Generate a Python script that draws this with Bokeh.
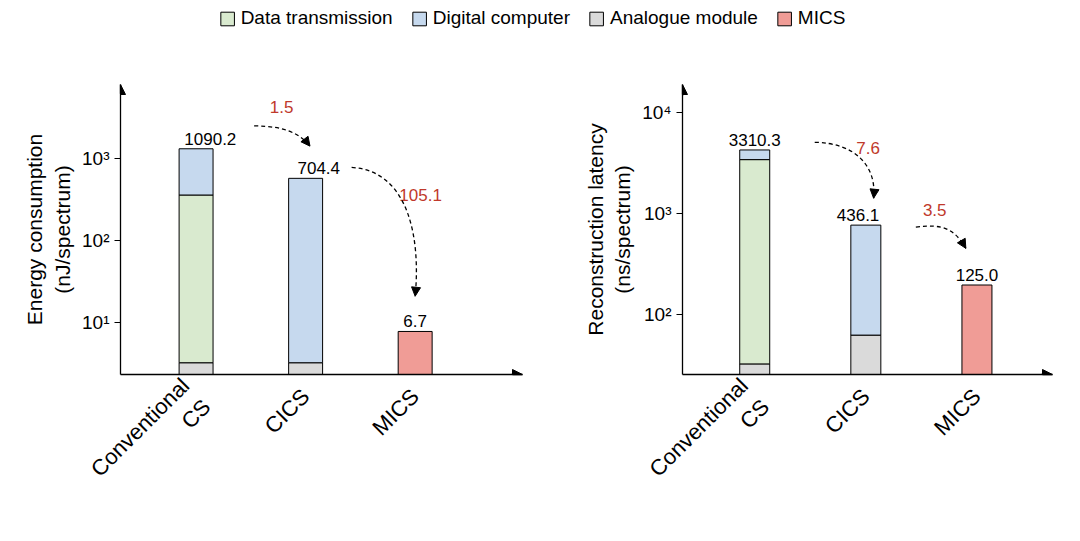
import math
from bokeh.plotting import figure
from bokeh.layouts import column, row
from bokeh.models import (Range1d, FixedTicker, Arrow, NormalHead, Legend, LegendItem)
from bokeh.embed import file_html
from bokeh.resources import INLINE

FONT = "Liberation Sans"
categories = ["Conventional\nCS", "CICS", "MICS"]
series = ["Data transmission", "Digital computer", "Analogue module", "MICS"]
colors = {"Data transmission": "#d9eacf", "Digital computer": "#c6d9ee",
          "Analogue module": "#dadada", "MICS": "#f09c96"}

# segment tops (stacked on log axis)
e_base = 2.3
e_analogue = [3.2, 3.2, None]
e_data = [355, None, None]
e_digital = [1300, 567, None]
e_mics = [None, None, 7.7]
e_labels = ["1090.2", "704.4", "6.7"]
e_ratio = ["1.5", "105.1"]

l_base = 25.7
l_analogue = [32.7, 63, None]
l_data = [3420, None, None]
l_digital = [4260, 770, None]
l_mics = [None, None, 197]
l_labels = ["3310.3", "436.1", "125.0"]
l_ratio = ["7.6", "3.5"]


def panel(width, bl, br, bt, bb, xr, yr, ticks, base, analogue, data, digital, mics, ylabel, bw,
          labels, lab_x, ratios, ratio_pos, curves):
    p = figure(width=width, height=489, output_backend="svg", toolbar_location=None,
               y_axis_type="log", x_range=Range1d(*xr), y_range=Range1d(*yr),
               min_border_left=bl, min_border_right=br, min_border_top=bt, min_border_bottom=bb)
    p.outline_line_color = None
    p.grid.visible = False
    for i in range(3):
        b = base
        for val, key in [(analogue[i], "Analogue module"), (data[i], "Data transmission"),
                         (digital[i], "Digital computer"), (mics[i], "MICS")]:
            if val is None:
                continue
            p.vbar(x=[i], bottom=[b], top=[val], width=bw, fill_color=colors[key],
                   line_color="black", line_width=1)
            b = val
        top = b
        p.text(x=[lab_x[i]], y=[top], text=[labels[i]], text_align="center", text_baseline="bottom",
               y_offset=-4, text_font_size="17px", text_font={"value": FONT}, text_color="black")
    for t, (x, y) in zip(ratios, ratio_pos):
        p.text(x=[x], y=[y], text=[t], text_align="center", text_baseline="middle",
               text_font_size="17px", text_font={"value": FONT}, text_color="#c0392b")
    for (x0, y0, cx0, cy0, cx1, cy1, x1, y1) in curves:
        p.bezier(x0=[x0], y0=[y0], cx0=[cx0], cy0=[cy0], cx1=[cx1], cy1=[cy1], x1=[x1], y1=[y1],
                 line_color="black", line_width=1.3, line_dash="4 3")
        dx = x1 - cx1
        ly = math.log10(y1) - math.log10(cy1)
        p.add_layout(Arrow(end=NormalHead(size=9, fill_color="black", line_color="black"),
                           x_start=x1 - dx * 0.05, y_start=10 ** (math.log10(y1) - ly * 0.05),
                           x_end=x1, y_end=y1, line_color="black", line_width=1.3))
    p.yaxis.ticker = FixedTicker(ticks=ticks)
    sup = {1: "¹", 2: "²", 3: "³", 4: "⁴"}
    p.yaxis.major_label_overrides = {t: "10" + sup[int(round(math.log10(t)))] for t in ticks}
    p.yaxis.minor_tick_line_color = None
    p.yaxis.major_tick_out = 6
    p.yaxis.major_tick_in = 0
    p.yaxis.axis_label = ylabel
    p.yaxis.axis_label_text_font_style = "normal"
    p.yaxis.axis_label_text_font_size = "21px"
    p.yaxis.axis_label_text_font = FONT
    p.yaxis.axis_label_text_color = "black"
    p.yaxis.major_label_text_font_size = "19px"
    p.yaxis.major_label_text_font = FONT
    p.axis.major_label_text_color = "black"
    p.xaxis.ticker = FixedTicker(ticks=[0, 1, 2])
    p.xaxis.major_label_overrides = {i: c for i, c in enumerate(categories)}
    p.xaxis.major_label_orientation = math.pi / 4
    p.xaxis.major_label_text_font_size = "22px"
    p.xaxis.major_label_text_font = FONT
    p.xaxis.major_label_standoff = 12
    p.xaxis.major_tick_line_color = None
    p.xaxis.minor_tick_line_color = None
    p.axis.axis_line_width = 1.3
    p.axis.axis_line_color = "black"
    p.yaxis.major_tick_line_color = "black"
    p.add_layout(Arrow(end=NormalHead(size=10, fill_color="black"), x_start=xr[0], x_end=xr[0],
                       y_start=yr[1] / 1.3, y_end=yr[1], line_width=1.3))
    p.add_layout(Arrow(end=NormalHead(size=10, fill_color="black"), x_start=xr[1] - 0.1, x_end=xr[1],
                       y_start=yr[0], y_end=yr[0], line_width=1.3))
    return p


left = panel(552, 120, 30, 36, 138, (-0.69, 2.98), (2.3, 7900), [10, 100, 1000], e_base,
             e_analogue, e_data, e_digital, e_mics, "Energy consumption\n(nJ/spectrum)", 0.31,
             e_labels, [0.13, 1.12, 2.0], e_ratio, [(0.78, 4150), (2.05, 355)],
             [(0.53, 2470, 0.8, 2470, 0.95, 2000, 1.04, 1400),
              (1.42, 770, 1.95, 700, 2.05, 100, 2.0, 20.7)])
right = panel(504, 130, 4, 48, 138, (-0.65, 2.68), (25.7, 18900), [100, 1000, 10000], l_base,
              l_analogue, l_data, l_digital, l_mics, "Reconstruction latency\n(ns/spectrum)", 0.27,
              l_labels, [0.0, 0.93, 2.0], l_ratio, [(1.02, 4440), (1.62, 1090)],
              [(0.54, 5070, 0.9, 5000, 1.1, 3000, 1.07, 1420),
               (1.45, 736, 1.7, 800, 1.8, 700, 1.9, 454)])

leg = figure(width=1064, height=36, output_backend="svg", toolbar_location=None,
             x_range=Range1d(0, 1), y_range=Range1d(0, 1), min_border=0)
leg.axis.visible = False
leg.grid.visible = False
leg.outline_line_color = None
items = []
for s in series:
    r = leg.vbar(x=[-5], top=[-5], bottom=[-6], width=0.1, fill_color=colors[s], line_color="black")
    items.append(LegendItem(label=s, renderers=[r]))
lg = Legend(items=items, orientation="horizontal", location="center", border_line_color=None,
            label_text_font_size="19px", label_text_font=FONT, label_text_color="black",
            glyph_width=17, glyph_height=17, spacing=18, background_fill_alpha=0, margin=0, padding=0)
leg.add_layout(lg, "center")

layout = column(leg, row(left, right, spacing=0), spacing=0)
open("out.html", "w").write(file_html(layout, INLINE))
